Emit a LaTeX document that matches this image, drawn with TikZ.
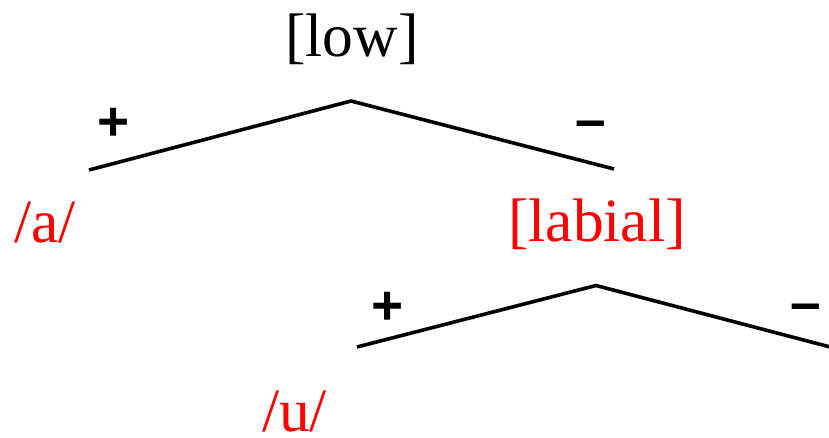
\documentclass[tikz,border=0pt]{standalone}
\usepackage{fontspec}
\setmainfont{Liberation Serif}
\newfontfamily\signfont{Liberation Sans}
\begin{document}
\begin{tikzpicture}[x=1pt,y=-1pt,
  feat/.style={anchor=base,inner sep=0pt,font=\fontsize{61.5}{72}\selectfont},
  redfeat/.style={feat,text=red},
  sign/.style={anchor=base,inner sep=0pt,font=\fontsize{55}{60}\signfont\bfseries},
  branch/.style={line width=3.6pt}]
\useasboundingbox (0,0) rectangle (829,438);
% nodes
\node[feat] (low) at (352,57) {[low]};
\node[redfeat] (labial) at (597,242) {[labial]};
\node[redfeat] (a) at (45,243) {/a/};
\node[redfeat] (u) at (294.5,431) {/u/};
\node[sign] (p1) at (114,140.5) {+};
\node[sign] (m1) at (591,139) {–};
\node[sign] (p2) at (387.5,324) {+};
\node[sign] (m2) at (806,321) {–};
% tree lines
\coordinate (top1) at (351,101);
\coordinate (l1) at (89,170);
\coordinate (r1) at (614,169);
\coordinate (top2) at (596,285.5);
\coordinate (l2) at (357,347);
\coordinate (r2) at (834,348);
\draw[branch] (l1) -- (top1) -- (r1);
\draw[branch] (l2) -- (top2) -- (r2);
\end{tikzpicture}
\end{document}
